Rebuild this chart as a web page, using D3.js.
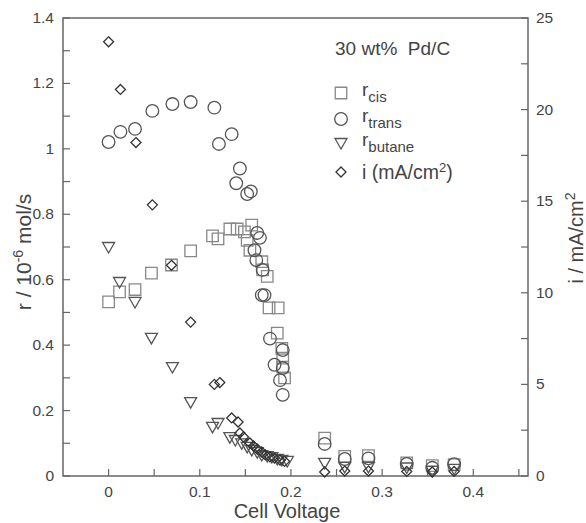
<!DOCTYPE html>
<html><head><meta charset="utf-8">
<script src="https://cdn.jsdelivr.net/npm/d3@7"></script>
<style>
body{margin:0;background:#fff;}
text{font-family:"Liberation Sans",Arial,sans-serif;fill:#444;white-space:pre;}
</style></head>
<body><svg id="c" width="586" height="523"></svg>
<script>
// r_cis (squares)
const cisX = [0.000,0.012,0.029,0.047,0.069,0.090,0.114,0.120,0.133,0.141,0.149,0.157,0.152,0.155,0.168,0.169,0.174,0.176,0.186,0.185,0.190,0.191,0.191,0.193,0.237,0.259,0.285,0.327,0.355,0.379];
const cisY = [0.532,0.563,0.570,0.620,0.645,0.688,0.734,0.725,0.755,0.755,0.746,0.767,0.720,0.690,0.655,0.630,0.610,0.514,0.514,0.437,0.390,0.360,0.333,0.300,0.116,0.060,0.062,0.040,0.032,0.035];
// r_trans (circles)
const transX = [0.000,0.013,0.029,0.048,0.070,0.090,0.116,0.121,0.135,0.144,0.140,0.152,0.156,0.163,0.166,0.160,0.162,0.169,0.168,0.171,0.177,0.191,0.182,0.191,0.188,0.191,0.237,0.259,0.285,0.327,0.355,0.379];
const transY = [1.021,1.052,1.061,1.116,1.137,1.143,1.126,1.015,1.045,0.940,0.895,0.862,0.870,0.743,0.728,0.690,0.660,0.630,0.553,0.553,0.420,0.385,0.340,0.330,0.293,0.248,0.098,0.052,0.054,0.037,0.025,0.036];
// r_butane (triangles)
const butX = [0.000,0.012,0.029,0.047,0.070,0.090,0.114,0.120,0.133,0.139,0.146,0.152,0.157,0.163,0.168,0.174,0.179,0.185,0.190,0.196,0.237,0.259,0.285,0.327,0.355,0.379];
const butY = [0.700,0.593,0.532,0.422,0.333,0.226,0.150,0.162,0.119,0.110,0.100,0.089,0.080,0.073,0.064,0.061,0.058,0.052,0.049,0.046,0.040,0.028,0.028,0.026,0.016,0.022];
// i (diamonds, right axis, mA/cm2)
const curX = [0.000,0.013,0.030,0.048,0.069,0.090,0.116,0.122,0.135,0.142,0.144,0.148,0.155,0.159,0.163,0.168,0.172,0.177,0.182,0.188,0.193,0.237,0.259,0.285,0.327,0.355,0.379];
const curY = [23.7,21.1,18.2,14.8,11.5,8.4,5.0,5.1,3.17,2.95,2.35,2.13,1.80,1.64,1.47,1.31,1.15,1.04,0.98,0.87,0.80,0.22,0.27,0.27,0.25,0.22,0.25];

const xTicks = [0,0.1,0.2,0.3,0.4];
const yLeftTicks = [0,0.2,0.4,0.6,0.8,1,1.2,1.4];
const yRightTicks = [0,5,10,15,20,25];

const svg = d3.select('#c');
const L=63, R=528, T=18, B=476;
const x = d3.scaleLinear().domain([-0.05,0.46]).range([L,R]);
const yl = d3.scaleLinear().domain([0,1.4]).range([B,T]);
const yr = d3.scaleLinear().domain([0,25]).range([B,T]);
const axisCol = '#666';
const tickFs = 15.5;

// frame
svg.append('rect').attr('x',L).attr('y',T).attr('width',R-L).attr('height',B-T)
  .attr('fill','none').attr('stroke',axisCol).attr('stroke-width',1.5);

const tl = 7;
const xt = d3.range(0,0.451,0.05);
svg.append('g').selectAll('line').data(xt).join('line')
  .attr('x1',d=>x(d)).attr('x2',d=>x(d)).attr('y1',B).attr('y2',B-tl)
  .attr('stroke',axisCol).attr('stroke-width',1.2);
svg.append('g').selectAll('text').data(xTicks).join('text')
  .attr('x',d=>x(d)).attr('y',B+21).attr('text-anchor','middle').attr('font-size',tickFs)
  .text(d=>d3.format('')(d));
const ylt = d3.range(0,1.401,0.1);
svg.append('g').selectAll('line').data(ylt).join('line')
  .attr('x1',L).attr('x2',L+tl).attr('y1',d=>yl(d)).attr('y2',d=>yl(d))
  .attr('stroke',axisCol).attr('stroke-width',1.2);
svg.append('g').selectAll('text').data(yLeftTicks).join('text')
  .attr('x',L-9).attr('y',d=>yl(d)+5).attr('text-anchor','end').attr('font-size',tickFs)
  .text(d=>d3.format('')(d));
const yrt = d3.range(0,25.01,2.5);
svg.append('g').selectAll('line').data(yrt).join('line')
  .attr('x1',R).attr('x2',R-tl).attr('y1',d=>yr(d)).attr('y2',d=>yr(d))
  .attr('stroke',axisCol).attr('stroke-width',1.2);
svg.append('g').selectAll('text').data(yRightTicks).join('text')
  .attr('x',R+8).attr('y',d=>yr(d)+5).attr('text-anchor','start').attr('font-size',tickFs)
  .text(d=>d);

// axis titles
svg.append('text').attr('x',287).attr('y',518).attr('text-anchor','middle').attr('font-size',20).text('Cell Voltage');
const lt = svg.append('text').attr('transform','translate(31,252) rotate(-90)').attr('text-anchor','middle').attr('font-size',21);
lt.append('tspan').text('r / 10');
lt.append('tspan').attr('font-size',14).attr('dy',-8).text('-6');
lt.append('tspan').attr('dy',8).text(' mol/s');
const rt = svg.append('text').attr('transform','translate(583,238) rotate(-90)').attr('text-anchor','middle').attr('font-size',20);
rt.append('tspan').text('i / mA/cm');
rt.append('tspan').attr('font-size',14).attr('dy',-8).text('2');

// markers
const sym = (type,size)=>d3.symbol().type(type).size(size)();
function plot(xs,ys,yScale,path,stroke){
  svg.append('g').selectAll('path').data(xs.map((v,i)=>[v,ys[i]])).join('path')
    .attr('transform',d=>`translate(${x(d[0])},${yScale(d[1])})`)
    .attr('d',path).attr('fill','none').attr('stroke',stroke).attr('stroke-width',1.3);
}
const sqPath = sym(d3.symbolSquare,132);
const cirPath = sym(d3.symbolCircle,125);
const triPath = 'M-6,-4.5L6,-4.5L0,6Z';
const diaPath = 'M0,-5L5,0L0,5L-5,0Z';
plot(cisX,cisY,yl,sqPath,'#888');
plot(transX,transY,yl,cirPath,'#555');
plot(butX,butY,yl,triPath,'#555');
plot(curX,curY,yr,diaPath,'#333');

// annotation & legend
svg.append('text').attr('x',335).attr('y',55).attr('font-size',19).attr('fill','#333').text('30 wt%  Pd/C');
const leg = [
  {p:sqPath,c:'#888',main:'r',sub:'cis',y:93},
  {p:cirPath,c:'#555',main:'r',sub:'trans',y:119},
  {p:triPath,c:'#555',main:'r',sub:'butane',y:143},
];
leg.forEach(e=>{
  svg.append('path').attr('transform',`translate(341,${e.y})`).attr('d',e.p).attr('fill','none').attr('stroke',e.c).attr('stroke-width',1.3);
  const t = svg.append('text').attr('x',362).attr('y',e.y+3).attr('font-size',19).attr('fill','#333');
  t.append('tspan').text(e.main);
  t.append('tspan').attr('font-size',15).attr('dy',6).text(e.sub);
});
svg.append('path').attr('transform','translate(341,172)').attr('d',diaPath).attr('fill','none').attr('stroke','#333').attr('stroke-width',1.3);
const it = svg.append('text').attr('x',362).attr('y',179).attr('font-size',19.5).attr('fill','#333');
it.append('tspan').text('i (mA/cm');
it.append('tspan').attr('font-size',13).attr('dy',-7).text('2');
it.append('tspan').attr('dy',7).text(')');
</script></body></html>
